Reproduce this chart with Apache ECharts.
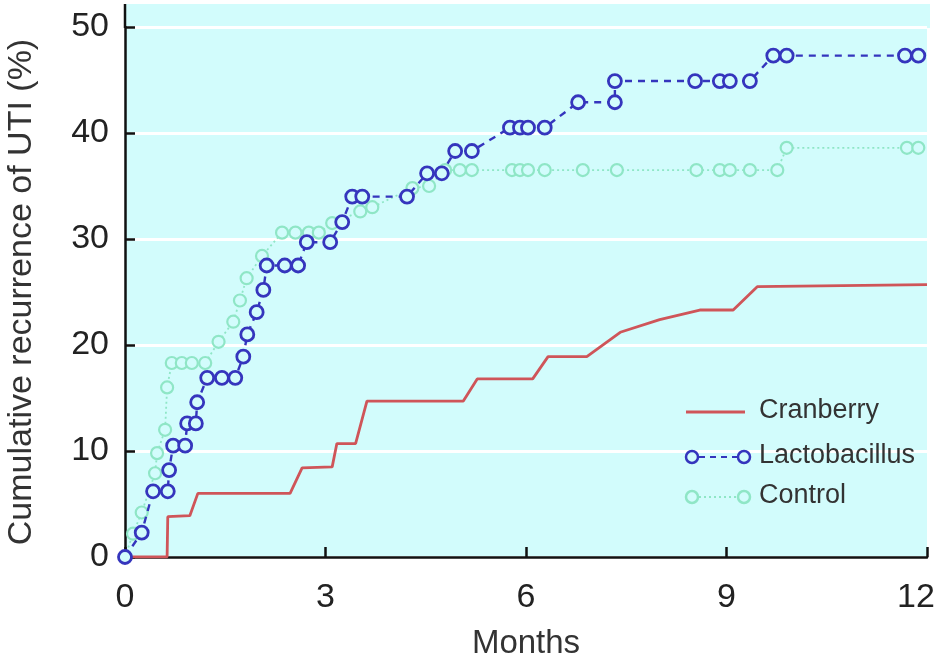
<!DOCTYPE html>
<html>
<head>
<meta charset="utf-8">
<script src="https://cdn.jsdelivr.net/npm/echarts@6/dist/echarts.min.js"></script>
<style>
  html, body { margin: 0; padding: 0; background: #ffffff; }
  #chart { width: 938px; height: 659px; }
</style>
</head>
<body>
<div id="chart"></div>
<script>
// Cumulative recurrence of UTI (%) by month, per treatment group: [month, percent]
const cranberry = [
  [0, 0], [0.63, 0], [0.64, 3.8], [0.97, 3.9], [1.09, 6.0], [2.47, 6.0], [2.65, 8.4],
  [3.1, 8.5], [3.17, 10.7], [3.45, 10.7], [3.62, 14.7], [5.06, 14.7], [5.27, 16.8],
  [6.1, 16.8], [6.33, 18.9], [6.91, 18.9], [7.41, 21.2], [8.0, 22.4], [8.6, 23.3],
  [9.1, 23.3], [9.46, 25.5], [12, 25.7]
];
const lactobacillus = [
  [0, 0], [0.25, 2.3], [0.42, 6.2], [0.64, 6.2], [0.66, 8.2], [0.72, 10.5], [0.9, 10.5],
  [0.93, 12.6], [1.06, 12.6], [1.08, 14.6], [1.23, 16.9], [1.45, 16.9], [1.65, 16.9],
  [1.77, 18.9], [1.83, 21.0], [1.97, 23.1], [2.07, 25.2], [2.12, 27.5], [2.39, 27.5],
  [2.59, 27.5], [2.72, 29.7], [3.07, 29.7], [3.25, 31.6], [3.4, 34.0], [3.55, 34.0],
  [4.22, 34.0], [4.52, 36.2], [4.74, 36.2], [4.94, 38.3], [5.19, 38.3], [5.76, 40.5],
  [5.91, 40.5], [6.03, 40.5], [6.28, 40.5], [6.78, 42.9], [7.33, 42.9], [7.33, 44.9],
  [8.53, 44.9], [8.9, 44.9], [9.05, 44.9], [9.35, 44.9], [9.7, 47.3], [9.9, 47.3],
  [11.67, 47.3], [11.87, 47.3]
];
const control = [
  [0, 0], [0.12, 2.2], [0.25, 4.2], [0.45, 7.9], [0.48, 9.8], [0.6, 12.0], [0.63, 16.0],
  [0.7, 18.3], [0.85, 18.3], [1.0, 18.3], [1.2, 18.3], [1.4, 20.3], [1.62, 22.2],
  [1.72, 24.2], [1.82, 26.3], [2.05, 28.4], [2.35, 30.6], [2.55, 30.6], [2.75, 30.6],
  [2.9, 30.6], [3.1, 31.5], [3.52, 32.6], [3.7, 33.0], [4.3, 34.8], [4.55, 35.0],
  [4.79, 36.5], [5.01, 36.5], [5.19, 36.5], [5.79, 36.5], [5.91, 36.5], [6.03, 36.5],
  [6.28, 36.5], [6.85, 36.5], [7.36, 36.5], [8.55, 36.5], [8.9, 36.5], [9.05, 36.5],
  [9.35, 36.5], [9.76, 36.5], [9.9, 38.6], [11.7, 38.6], [11.87, 38.6]
];
const xTicks = { min: 0, max: 12, interval: 3 };
const yTicks = { min: 0, max: 50, interval: 10 };
const seriesNames = ['Cranberry', 'Lactobacillus', 'Control'];

const BG = '#d2fcfc';
const RED = '#cf5559';
const BLUE = '#3535bd';
const MINT = '#8fe6c6';
const FONT = 'Liberation Sans, Arial, sans-serif';

const chart = echarts.init(document.getElementById('chart'), null, { renderer: 'canvas' });

// Legend drawn as graphic entries: line sample with end markers, then label
function legendEntry(y, color, dash, markers, label) {
  const items = [];
  items.push({
    type: 'line', silent: true, z: 10,
    shape: { x1: markers ? 699 : 686, y1: y, x2: markers ? 737 : 745, y2: y },
    style: { stroke: color, lineWidth: markers ? 2.2 : 3, lineDash: dash }
  });
  if (markers) {
    [692, 744].forEach(cx => items.push({
      type: 'circle', silent: true, z: 11,
      shape: { cx: cx, cy: y, r: 6 },
      style: { fill: BG, stroke: color, lineWidth: 2.5 }
    }));
  }
  items.push({
    type: 'text', silent: true, z: 11, left: 759, top: y - 15,
    style: { text: label, fill: '#333', font: '27px ' + FONT }
  });
  return items;
}

const option = {
  animation: false,
  backgroundColor: '#ffffff',
  grid: {
    left: 125, right: 11, top: 27, bottom: 102,
    outerBoundsMode: 'none', containLabel: false,
    show: true, backgroundColor: BG, borderWidth: 0
  },
  xAxis: {
    type: 'value', min: xTicks.min, max: xTicks.max, interval: xTicks.interval,
    name: 'Months', nameLocation: 'middle', nameGap: 70,
    nameTextStyle: { fontFamily: FONT, fontSize: 33, color: '#333' },
    axisLine: { show: true, onZero: false, lineStyle: { color: '#111', width: 2.5 } },
    axisTick: { show: true, inside: true, length: 10, lineStyle: { color: '#111', width: 2.5 } },
    axisLabel: {
      fontFamily: FONT, fontSize: 34, color: '#222', margin: 24,
      // last label sits a little inside the right edge
      formatter: v => v === xTicks.max ? '{r|' + v + '}' : String(v),
      rich: { r: { fontFamily: FONT, fontSize: 34, color: '#222', padding: [0, 22, 0, 0] } }
    },
    splitLine: { show: false }
  },
  yAxis: {
    type: 'value', min: yTicks.min, max: yTicks.max, interval: yTicks.interval,
    name: 'Cumulative recurrence of UTI (%)', nameLocation: 'middle', nameGap: 86, nameRotate: 90,
    nameTextStyle: { fontFamily: FONT, fontSize: 34, color: '#333' },
    axisLine: { show: true, onZero: false, lineStyle: { color: '#111', width: 2.5 } },
    axisTick: { show: true, inside: true, length: 10, lineStyle: { color: '#111', width: 2.5 } },
    axisLabel: { fontFamily: FONT, fontSize: 34, color: '#222', margin: 16 },
    splitLine: { show: true, lineStyle: { color: '#ffffff', width: 3 } }
  },
  series: [
    {
      name: seriesNames[0], type: 'line', data: cranberry, showSymbol: false, z: 3,
      lineStyle: { color: RED, width: 2.8 }, itemStyle: { color: RED }
    },
    {
      name: seriesNames[2], type: 'line', data: control, z: 4,
      symbol: 'circle', symbolSize: 12, showAllSymbol: true,
      lineStyle: { color: MINT, width: 1.8, type: [2, 3] },
      itemStyle: { color: BG, borderColor: MINT, borderWidth: 2.2 }
    },
    {
      name: seriesNames[1], type: 'line', data: lactobacillus, z: 5,
      symbol: 'circle', symbolSize: 13, showAllSymbol: true,
      lineStyle: { color: BLUE, width: 2.4, type: [7, 6] },
      itemStyle: { color: BG, borderColor: BLUE, borderWidth: 2.8 }
    }
  ],
  graphic: [
    // panel fill continues above the 50% line, with the axis line
    { type: 'rect', silent: true, z: -1, shape: { x: 125, y: 4, width: 805, height: 24 }, style: { fill: BG } },
    { type: 'line', silent: true, z: 5, shape: { x1: 125, y1: 4, x2: 125, y2: 28 }, style: { stroke: '#111', lineWidth: 2.5 } }
  ].concat(
    legendEntry(412, RED, null, false, seriesNames[0]),
    legendEntry(457, BLUE, [6, 5], true, seriesNames[1]),
    legendEntry(497, MINT, [2, 3], true, seriesNames[2])
  )
};
chart.setOption(option);
</script>
</body>
</html>
